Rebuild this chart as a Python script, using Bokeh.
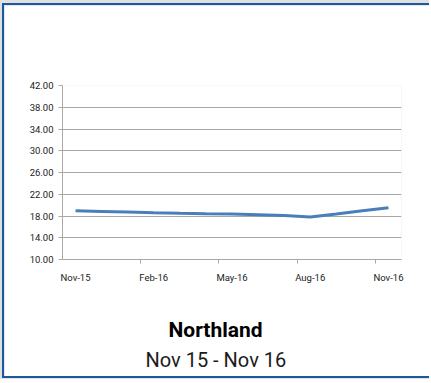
from bokeh.plotting import figure
from bokeh.layouts import column
from bokeh.models import FixedTicker, Title, Range1d, NumeralTickFormatter, LinearAxis
from bokeh.embed import file_html
from bokeh.resources import INLINE

months = ["Nov-15", "Dec-15", "Jan-16", "Feb-16", "Mar-16", "Apr-16", "May-16",
          "Jun-16", "Jul-16", "Aug-16", "Sep-16", "Oct-16", "Nov-16"]
values = [18.95, 18.85, 18.75, 18.62, 18.5, 18.42, 18.35, 18.25, 18.1, 17.8, 18.35, 18.95, 19.5]
y_ticks = [10, 14, 18, 22, 26, 30, 34, 38, 42]
label_step = 3
title_text = "Northland"
subtitle_text = "Nov 15 - Nov 16"

FONT = "Roboto"
GRID = "#a8a8a8"
BLUE_BORDER = "#1c58a0"

xs = list(range(len(months)))
label_idx = xs[::label_step]
bound_idx = [i - 0.5 for i in label_idx[1:]]

p = figure(width=427, height=375, x_range=Range1d(-0.5, len(months) - 0.5),
           y_range=Range1d(y_ticks[0], y_ticks[-1]),
           output_backend="svg", toolbar_location=None,
           min_border_left=58, min_border_right=30, min_border_top=80, min_border_bottom=121)
p.outline_line_color = None
p.background_fill_color = "white"
p.border_fill_color = "white"
p.styles = {"border-top": f"2px solid {BLUE_BORDER}", "border-left": f"2px solid {BLUE_BORDER}",
            "border-bottom": f"2px solid {BLUE_BORDER}"}

p.xaxis.ticker = FixedTicker(ticks=label_idx, minor_ticks=bound_idx)
p.xaxis.major_label_overrides = {i: months[i] for i in label_idx}
p.xaxis.major_tick_line_color = None
p.xaxis.major_tick_out = 0
p.xaxis.major_tick_in = 0
p.xaxis.minor_tick_line_color = GRID
p.xaxis.minor_tick_out = 4
p.xaxis.minor_tick_in = 0
p.xaxis.major_label_standoff = 8
p.xaxis.axis_line_color = GRID
p.xgrid.visible = False

p.yaxis.ticker = FixedTicker(ticks=y_ticks)
p.yaxis.formatter = NumeralTickFormatter(format="0.00")
p.yaxis.minor_tick_line_color = None
p.yaxis.major_tick_line_color = GRID
p.yaxis.major_tick_out = 4
p.yaxis.major_tick_in = 0
p.yaxis.major_label_standoff = 5
p.yaxis.axis_line_color = GRID
p.ygrid.ticker = FixedTicker(ticks=y_ticks)
p.ygrid.grid_line_color = GRID

for ax in (p.xaxis, p.yaxis):
    ax.major_label_text_font = FONT
    ax.major_label_text_font_size = "9.5px"
    ax.major_label_text_color = "#222222"

p.line(xs, values, line_color="#4a7ebb", line_width=3)

# invisible spacer between the x axis and the titles (white tick on white, no labels)
spacer = LinearAxis(ticker=FixedTicker(ticks=[label_idx[2]]), axis_line_color=None,
                    major_tick_line_color="white", minor_tick_line_color=None,
                    major_tick_out=30, major_tick_in=0, minor_tick_out=0, minor_tick_in=0,
                    major_label_standoff=0, major_label_text_color=None,
                    major_label_text_font_size="0px", major_label_overrides={label_idx[2]: ""})
p.add_layout(spacer, "below")

p.add_layout(Title(text=title_text, align="left", offset=106, standoff=0, text_font=FONT,
                   text_font_style="bold", text_font_size="21px", text_color="black"), "below")
p.add_layout(Title(text=subtitle_text, align="left", offset=83, standoff=8, text_font=FONT,
                   text_font_style="normal", text_font_size="20px", text_color="#1a1a1a"), "below")

layout = column(p, styles={"background-color": "#e0e0e0", "padding-top": "3px",
                           "padding-left": "2px", "padding-bottom": "1px"})

open("out.html", "w").write(file_html(layout, INLINE))
